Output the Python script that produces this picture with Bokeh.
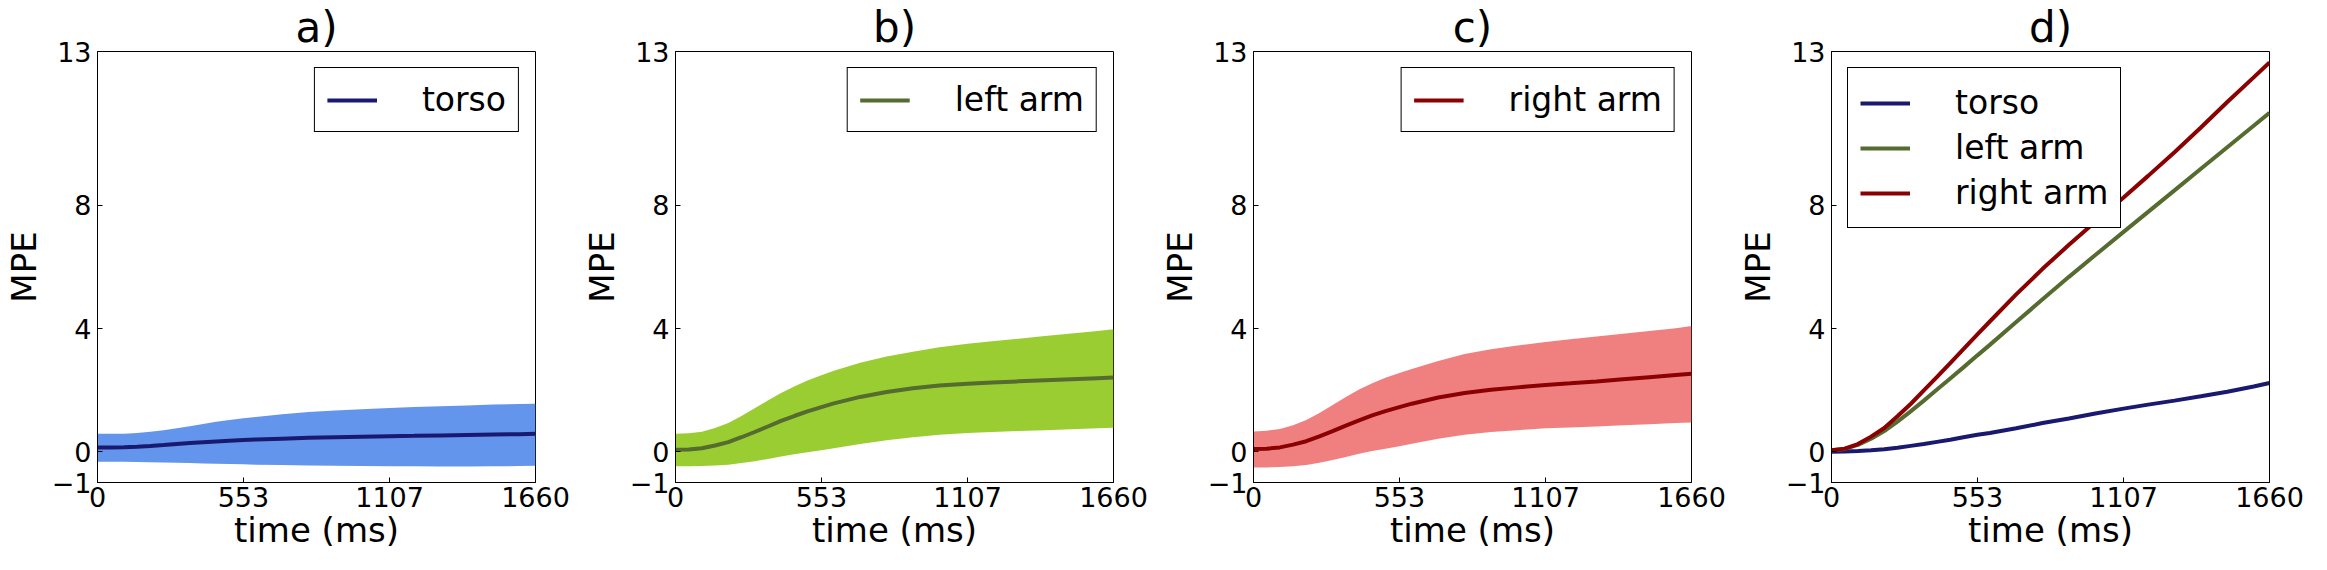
from bokeh.plotting import figure
from bokeh.models import Range1d, FixedTicker, Legend, LegendItem
from bokeh.layouts import row
from bokeh.embed import file_html
from bokeh.resources import INLINE

# ---- data ----
time_ms = [0, 50, 100, 150, 200, 250, 300, 350, 400, 450, 500, 553, 600, 700, 800, 900, 1000, 1107,
           1200, 1300, 1400, 1500, 1600, 1660]

torso_mean = [0.14, 0.14, 0.145, 0.16, 0.185, 0.215, 0.25, 0.28, 0.31, 0.335, 0.36, 0.38, 0.395, 0.425,
              0.45, 0.47, 0.49, 0.505, 0.515, 0.53, 0.545, 0.56, 0.57, 0.58]
torso_upper = [0.58, 0.58, 0.585, 0.61, 0.65, 0.70, 0.76, 0.83, 0.90, 0.97, 1.03, 1.09, 1.13, 1.22,
               1.29, 1.34, 1.38, 1.42, 1.45, 1.48, 1.505, 1.53, 1.55, 1.56]
torso_lower = [-0.33, -0.33, -0.33, -0.335, -0.34, -0.35, -0.36, -0.37, -0.38, -0.39, -0.40, -0.41, -0.42,
               -0.43, -0.445, -0.455, -0.465, -0.47, -0.475, -0.48, -0.48, -0.475, -0.465, -0.455]

left_mean = [0.06, 0.07, 0.11, 0.20, 0.31, 0.47, 0.64, 0.82, 1.00, 1.16, 1.31, 1.45, 1.57, 1.78,
             1.94, 2.06, 2.15, 2.21, 2.25, 2.285, 2.32, 2.355, 2.39, 2.41]
left_upper = [0.58, 0.60, 0.65, 0.77, 0.93, 1.16, 1.41, 1.66, 1.91, 2.12, 2.31, 2.48, 2.63, 2.89,
              3.09, 3.25, 3.39, 3.51, 3.585, 3.67, 3.755, 3.84, 3.925, 3.975]
left_lower = [-0.47, -0.47, -0.465, -0.45, -0.42, -0.37, -0.31, -0.235, -0.155, -0.085, -0.02, 0.05, 0.11,
              0.25, 0.37, 0.47, 0.55, 0.61, 0.64, 0.67, 0.70, 0.73, 0.76, 0.78]

right_mean = [0.09, 0.10, 0.14, 0.23, 0.34, 0.50, 0.67, 0.85, 1.02, 1.18, 1.32, 1.45, 1.56, 1.76,
              1.91, 2.01, 2.09, 2.17, 2.22, 2.28, 2.35, 2.42, 2.49, 2.53]
right_upper = [0.66, 0.68, 0.74, 0.86, 1.03, 1.26, 1.52, 1.78, 2.02, 2.22, 2.40, 2.56, 2.69, 2.95,
               3.17, 3.33, 3.45, 3.56, 3.65, 3.74, 3.83, 3.92, 4.01, 4.08]
right_lower = [-0.51, -0.51, -0.50, -0.47, -0.43, -0.36, -0.27, -0.17, -0.07, 0.02, 0.10, 0.18, 0.26,
               0.42, 0.55, 0.64, 0.70, 0.76, 0.79, 0.82, 0.86, 0.89, 0.93, 0.95]

d_torso = [0.0, 0.005, 0.02, 0.045, 0.08, 0.13, 0.19, 0.25, 0.32, 0.39, 0.47, 0.55, 0.61, 0.76,
           0.93, 1.08, 1.24, 1.40, 1.53, 1.66, 1.80, 1.95, 2.12, 2.23]
d_left = [0.05, 0.09, 0.22, 0.42, 0.67, 0.98, 1.31, 1.66, 2.02, 2.38, 2.74, 3.13, 3.47, 4.21,
          4.95, 5.68, 6.39, 7.14, 7.79, 8.49, 9.19, 9.89, 10.59, 11.01]
d_right = [0.05, 0.10, 0.25, 0.49, 0.77, 1.15, 1.55, 1.99, 2.43, 2.88, 3.33, 3.81, 4.23, 5.11,
           5.94, 6.72, 7.47, 8.26, 8.96, 9.73, 10.53, 11.36, 12.16, 12.64]

x_ticks = [0, 553, 1107, 1660]
y_ticks = [-1, 0, 4, 8, 13]
titles = ["a)", "b)", "c)", "d)"]
names = ["torso", "left arm", "right arm"]
line_colors = ["#191970", "#556B2F", "#8B0000"]
band_colors = ["#6495ED", "#9ACD32", "#F08080"]

FONT = "DejaVu Sans"


def make_fig(title):
    p = figure(frame_width=438, frame_height=431, x_range=Range1d(0, 1660), y_range=Range1d(-1, 13),
               output_backend="svg", toolbar_location=None,
               min_border_left=96, min_border_right=43, min_border_top=47, min_border_bottom=76,
               title=title)
    p.title.text_font = FONT
    p.title.text_font_size = "42px"
    p.title.text_font_style = "normal"
    p.title.text_color = "black"
    p.title.align = "center"
    p.title.standoff = 0
    p.grid.visible = False
    p.outline_line_color = "black"
    p.outline_line_alpha = 1.0
    p.outline_line_width = 1
    for ax in (p.xaxis[0], p.yaxis[0]):
        ax.major_label_text_font = FONT
        ax.major_label_text_font_size = "27px"
        ax.axis_label_text_font = FONT
        ax.axis_label_text_font_size = "34px"
        ax.axis_label_text_font_style = "normal"
        ax.major_tick_in = 5
        ax.major_tick_out = 0
        ax.minor_tick_line_color = None
        ax.axis_line_color = "black"
        ax.major_tick_line_color = "black"
        ax.major_label_text_color = "black"
        ax.axis_label_text_color = "black"
    p.xaxis[0].ticker = FixedTicker(ticks=x_ticks)
    p.yaxis[0].ticker = FixedTicker(ticks=y_ticks)
    p.yaxis[0].major_label_overrides = {-1: "\u22121"}
    p.xaxis[0].axis_label = "time (ms)"
    p.yaxis[0].axis_label = "MPE"
    p.xaxis[0].major_label_standoff = 4
    p.xaxis[0].axis_label_standoff = 0
    p.yaxis[0].major_label_standoff = 6
    p.yaxis[0].axis_label_standoff = 5
    return p


def make_legend(items, location, label_height):
    return Legend(items=items, location=location, margin=16, padding=12,
                  label_height=label_height, glyph_width=50, glyph_height=20,
                  label_standoff=45, spacing=0,
                  label_text_font=FONT, label_text_font_size="33px", label_text_color="black",
                  border_line_color="black", border_line_width=1, border_line_alpha=1.0,
                  background_fill_color="white", background_fill_alpha=1.0)


figs = []
series = [(torso_mean, torso_upper, torso_lower),
          (left_mean, left_upper, left_lower),
          (right_mean, right_upper, right_lower)]
for i, (m, up, lo) in enumerate(series):
    p = make_fig(titles[i])
    p.varea(x=time_ms, y1=lo, y2=up, fill_color=band_colors[i], fill_alpha=1.0)
    r = p.line(time_ms, m, line_color=line_colors[i], line_width=4)
    p.add_layout(make_legend([LegendItem(label=names[i], renderers=[r])], "top_right", 36))
    figs.append(p)

p = make_fig(titles[3])
items = []
for i, ys in enumerate([d_torso, d_left, d_right]):
    r = p.line(time_ms, ys, line_color=line_colors[i], line_width=4)
    items.append(LegendItem(label=names[i], renderers=[r]))
p.add_layout(make_legend(items, "top_left", 45))
figs.append(p)

layout = row(*figs)
open("out.html", "w").write(file_html(layout, INLINE))
